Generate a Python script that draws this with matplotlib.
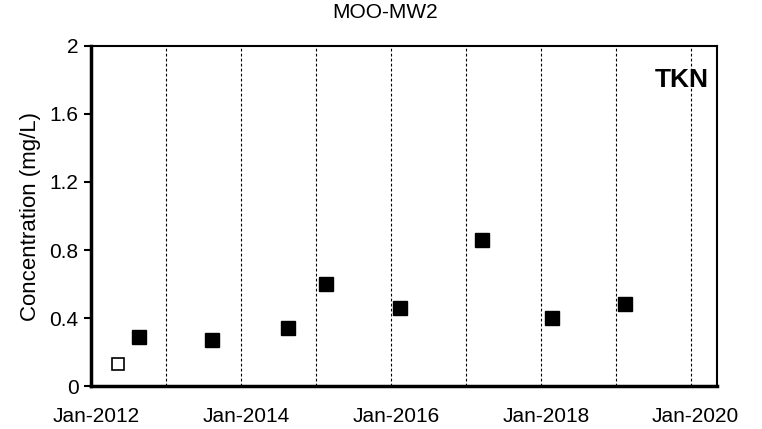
import matplotlib
matplotlib.use("Agg")
import matplotlib.pyplot as plt
import matplotlib.dates as mdates
import matplotlib.transforms as mtransforms
import pandas as pd

plt.rcParams['font.family'] = ['Liberation Sans', 'DejaVu Sans']

# non-detect (open square)
nd_dates = pd.to_datetime(['2012-05-10'])
nd_vals = [0.13]
# detected values (filled squares)
det_dates = pd.to_datetime(['2012-08-20', '2013-08-12', '2014-08-18', '2015-02-17',
                            '2016-02-13', '2017-03-18', '2018-02-25', '2019-02-15'])
det_vals = [0.29, 0.27, 0.34, 0.60, 0.46, 0.86, 0.40, 0.48]

title = 'MOO-MW2'
analyte = 'TKN'
ylabel = 'Concentration (mg/L)'
yticks = [0, 0.4, 0.8, 1.2, 1.6, 2]

fig = plt.figure(figsize=(7.62, 4.29), dpi=100)
ax = fig.add_axes([0.1194, 0.1002, 0.8215, 0.7926])

ax.plot(nd_dates, nd_vals, 's', ms=8.2, mfc='white', mec='black', mew=1.2, zorder=3)
ax.plot(det_dates, det_vals, 's', ms=9.8, color='black', zorder=3)

ax.set_xlim(pd.Timestamp('2012-01-01'), pd.Timestamp('2020-05-08'))
ax.set_ylim(0, 2)
ax.set_yticks(yticks)
ax.set_yticklabels(['0', '0.4', '0.8', '1.2', '1.6', '2'])

# gridlines every year, labels every two years
ax.xaxis.set_major_locator(mdates.YearLocator(2))
ax.xaxis.set_major_formatter(mdates.DateFormatter('Jan-%Y'))
ax.xaxis.set_minor_locator(mdates.YearLocator(1))
ax.grid(True, which='both', axis='x', color='black', linestyle=(0, (2.5, 2)), linewidth=0.8)
ax.tick_params(axis='x', which='both', length=0, pad=15, labelsize=15)
ax.tick_params(axis='y', length=5, width=1.5, labelsize=15, pad=4)

# labels sit a little right of their gridline
shift = mtransforms.ScaledTranslation(5 / 100, 0, fig.dpi_scale_trans)
for lab in ax.get_xticklabels():
    lab.set_transform(lab.get_transform() + shift)

for s in ['left', 'bottom']:
    ax.spines[s].set_linewidth(2.5)
for s in ['top', 'right']:
    ax.spines[s].set_linewidth(1.5)

ax.set_ylabel(ylabel, fontsize=16, labelpad=6)
fig.text(0.505, 0.972, title, ha='center', va='center', fontsize=15)
ax.text(0.987, 0.9, analyte, transform=ax.transAxes, ha='right', va='center',
        fontsize=19, fontweight='bold')

fig.savefig('out.png', dpi=100)
